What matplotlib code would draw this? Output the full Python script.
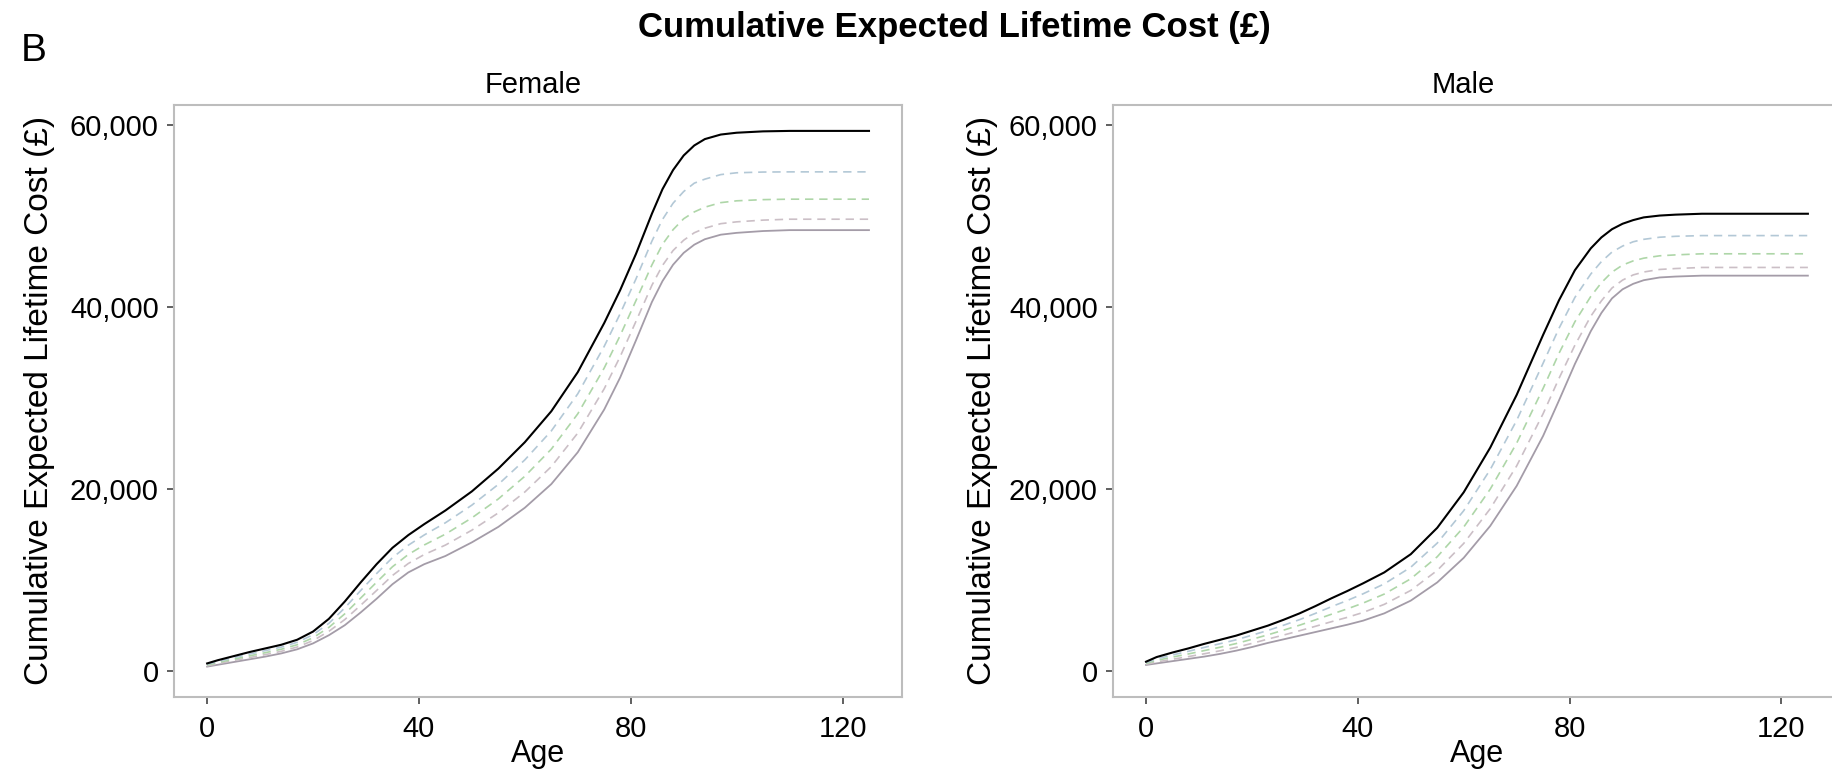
import matplotlib
matplotlib.use("Agg")
import matplotlib.pyplot as plt
from matplotlib.ticker import FuncFormatter

plt.rcParams['font.family'] = ['Liberation Sans', 'DejaVu Sans']

# ages
age = [0, 2, 5, 8, 11, 14, 17, 20, 23, 26, 29, 32, 35, 38, 41, 45, 50, 55,
       60, 65, 70, 75, 78, 81, 84, 86, 88, 90, 92, 94, 97, 100, 105, 110,
       115, 120, 125]

# Female panel (cumulative cost, GBP)
f_top = [800, 1150, 1600, 2050, 2450, 2850, 3400, 4300, 5700, 7600, 9700,
         11700, 13500, 14900, 16100, 17600, 19700, 22200, 25100, 28500, 32800,
         38200, 41800, 45800, 50200, 52900, 55000, 56600, 57700, 58400, 58900,
         59100, 59250, 59300, 59300, 59300, 59300]
f_d1 = [700, 1020, 1430, 1830, 2210, 2590, 3120, 3950, 5210, 6900, 8810,
        10670, 12420, 13790, 14910, 16250, 18190, 20470, 23160, 26340, 30420,
        35640, 39210, 43050, 47190, 49570, 51360, 52640, 53560, 54000, 54500,
        54700, 54780, 54800, 54800, 54800, 54800]
f_d2 = [620, 890, 1260, 1630, 1980, 2360, 2850, 3620, 4760, 6250, 7980,
        9720, 11420, 12770, 13810, 15000, 16790, 18870, 21360, 24340, 28220,
        33260, 36810, 40670, 44570, 46840, 48450, 49650, 50400, 50920, 51420,
        51620, 51750, 51800, 51800, 51800, 51800]
f_d3 = [530, 770, 1110, 1440, 1770, 2130, 2600, 3310, 4330, 5620, 7190,
        8810, 10460, 11780, 12760, 13800, 15440, 17340, 19630, 22420, 26110,
        30980, 34500, 38390, 42340, 44520, 46160, 47290, 48110, 48610, 49110,
        49310, 49500, 49600, 49600, 49600, 49600]
f_bot = [450, 650, 950, 1250, 1550, 1900, 2350, 3000, 3900, 5000, 6400,
         7900, 9500, 10800, 11700, 12600, 14100, 15800, 17900, 20500, 24000,
         28700, 32200, 36300, 40500, 42800, 44600, 45900, 46800, 47400, 47900,
         48100, 48300, 48400, 48400, 48400, 48400]

# Male panel
m_top = [990, 1500, 2000, 2450, 2950, 3400, 3850, 4400, 4950, 5600, 6300,
         7100, 7950, 8750, 9600, 10800, 12800, 15700, 19600, 24500, 30300,
         36900, 40700, 44000, 46400, 47600, 48500, 49100, 49500, 49800, 50000,
         50100, 50200, 50200, 50200, 50200, 50200]
m_d1 = [890, 1300, 1730, 2130, 2560, 2970, 3390, 3900, 4420, 5000, 5610,
        6300, 7030, 7710, 8450, 9540, 11370, 14020, 17580, 22090, 27500,
        33790, 37620, 41010, 43580, 44940, 45990, 46650, 47120, 47390, 47620,
        47720, 47800, 47800, 47800, 47800, 47800]
m_d2 = [800, 1130, 1500, 1840, 2210, 2580, 2980, 3450, 3940, 4460, 5000,
        5590, 6200, 6790, 7430, 8420, 10100, 12520, 15780, 19940, 25000,
        31020, 34870, 38340, 41120, 42620, 43790, 44560, 45020, 45320, 45580,
        45680, 45800, 45800, 45800, 45800, 45800]
m_d3 = [710, 950, 1260, 1550, 1860, 2190, 2560, 3000, 3470, 3920, 4390,
        4880, 5380, 5860, 6400, 7290, 8820, 11020, 13980, 17790, 22500,
        28240, 32120, 35760, 38940, 40630, 42040, 42910, 43480, 43800, 44080,
        44180, 44300, 44300, 44300, 44300, 44300]
m_bot = [630, 800, 1050, 1300, 1550, 1850, 2200, 2600, 3050, 3450, 3850,
         4250, 4650, 5050, 5500, 6300, 7700, 9700, 12400, 15900, 20300,
         25800, 29700, 33700, 37300, 39300, 40900, 41900, 42500, 42900, 43200,
         43300, 43400, 43400, 43400, 43400, 43400]

panels = ["Female", "Male"]
xticks = [0, 40, 80, 120]
yticks = [0, 20000, 40000, 60000]

fig = plt.figure(figsize=(18.32, 7.73), dpi=100)
ax_f = fig.add_axes([0.0950, 0.0983, 0.3974, 0.7665])
ax_m = fig.add_axes([0.6075, 0.0983, 0.3974, 0.7665])

series = {
    "Female": (f_top, f_d1, f_d2, f_d3, f_bot),
    "Male": (m_top, m_d1, m_d2, m_d3, m_bot),
}
title_x = {"Female": 0.493, "Male": 0.481}
ylab_x = {"Female": -0.185, "Male": -0.179}

dash = (0, (5, 3.5))
for ax, name in zip([ax_f, ax_m], panels):
    top, d1, d2, d3, bot = series[name]
    ax.plot(age, bot, color="#a49ca8", lw=1.3)
    ax.plot(age, d3, color="#cbbfc6", lw=1.2, ls=dash)
    ax.plot(age, d2, color="#aed6a8", lw=1.2, ls=dash)
    ax.plot(age, d1, color="#b3c8d6", lw=1.2, ls=dash)
    ax.plot(age, top, color="black", lw=1.5)

    ax.set_xlim(-6.25, 131.25)
    ax.set_ylim(-2890, 62200)
    ax.set_xticks(xticks)
    ax.set_yticks(yticks)
    ax.yaxis.set_major_formatter(FuncFormatter(lambda v, p: f"{int(v):,}"))
    ax.tick_params(axis="both", labelsize=21, length=5, width=1.2,
                   color="#444444")
    ax.tick_params(axis="x", pad=8)
    ax.tick_params(axis="y", pad=6)
    for sp in ax.spines.values():
        sp.set_color("#bdbdbd")
        sp.set_linewidth(1.5)
    ax.set_xlabel("Age", fontsize=22, labelpad=-3)
    ax.set_ylabel("Cumulative Expected Lifetime Cost (£)", fontsize=24)
    ax.yaxis.label.set_va("center")
    ax.yaxis.set_label_coords(ylab_x[name], 0.5)
    ax.set_title(name, fontsize=21, pad=8, x=title_x[name])

fig.text(0.5207, 0.952, "Cumulative Expected Lifetime Cost (£)", fontsize=25,
         fontweight="bold", ha="center", va="baseline")
fig.text(0.0115, 0.921, "B", fontsize=28, ha="left", va="baseline")

fig.savefig("out.png", dpi=100)
